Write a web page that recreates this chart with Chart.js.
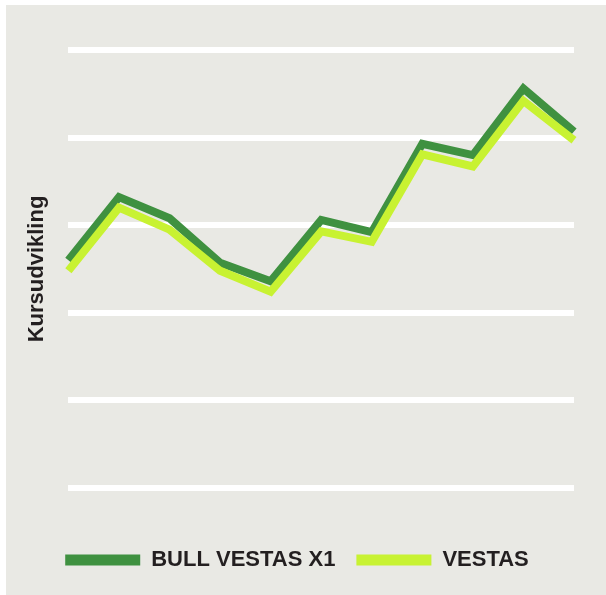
<!DOCTYPE html>
<html>
<head>
<meta charset="utf-8">
<script src="https://cdn.jsdelivr.net/npm/chart.js@4/dist/chart.umd.min.js"></script>
<style>
  html, body { margin: 0; padding: 0; background: #ffffff; }
  #wrap { position: absolute; left: 6px; top: 5px; width: 600px; height: 590px; background: #e9e9e4; }
  canvas { display: block; }
</style>
</head>
<body>
<div id="wrap"><canvas id="c" width="600" height="590"></canvas></div>
<script>
const categories = ["1", "2", "3", "4", "5", "6", "7", "8", "9", "10", "11"];
const bullVestasX1 = [2.60, 3.32, 3.08, 2.57, 2.36, 3.06, 2.92, 3.93, 3.80, 4.56, 4.07];
const vestas = [2.48, 3.20, 2.95, 2.48, 2.24, 2.93, 2.81, 3.81, 3.67, 4.42, 3.97];
const seriesNames = ["BULL VESTAS X1", "VESTAS"];
const yTitle = "Kursudvikling";

const DARK = "#3f9140";
const LIME = "#c8f232";
const FONT = "'Liberation Sans', Arial, sans-serif";

new Chart(document.getElementById("c"), {
  type: "line",
  data: {
    labels: categories,
    datasets: [
      { label: seriesNames[0], data: bullVestasX1, borderColor: DARK, backgroundColor: DARK,
        borderWidth: 8, pointRadius: 0, tension: 0, borderCapStyle: "butt", borderJoinStyle: "miter", order: 2 },
      { label: seriesNames[1], data: vestas, borderColor: LIME, backgroundColor: LIME,
        borderWidth: 8, pointRadius: 0, tension: 0, borderCapStyle: "butt", borderJoinStyle: "miter", order: 1 }
    ]
  },
  options: {
    responsive: false,
    animation: false,
    events: [],
    layout: { padding: { left: 14, right: 32, top: 45, bottom: 14 } },
    scales: {
      x: {
        display: true,
        ticks: { display: false },
        grid: { display: false, drawTicks: false },
        border: { display: false },
        afterFit(scale) { scale.height = 40; }
      },
      y: {
        min: 0, max: 5,
        ticks: { display: false, stepSize: 1 },
        grid: { color: "#ffffff", lineWidth: 6, drawTicks: false },
        border: { display: false },
        title: { display: true, text: yTitle, color: "#231f20",
          font: { family: FONT, size: 22, weight: "bold" }, padding: { top: 4, bottom: 18 } }
      }
    },
    plugins: {
      tooltip: { enabled: false },
      legend: {
        position: "bottom",
        labels: {
          boxWidth: 75, boxHeight: 11, padding: 21, color: "#231f20",
          font: { family: FONT, size: 22, weight: "bold" },
          generateLabels(chart) {
            return chart.data.datasets.map((ds, i) => ({
              text: ds.label, fillStyle: ds.borderColor, strokeStyle: ds.borderColor,
              lineWidth: 0, hidden: false, datasetIndex: i, fontColor: "#231f20"
            }));
          }
        }
      }
    }
  }
});
</script>
</body>
</html>
